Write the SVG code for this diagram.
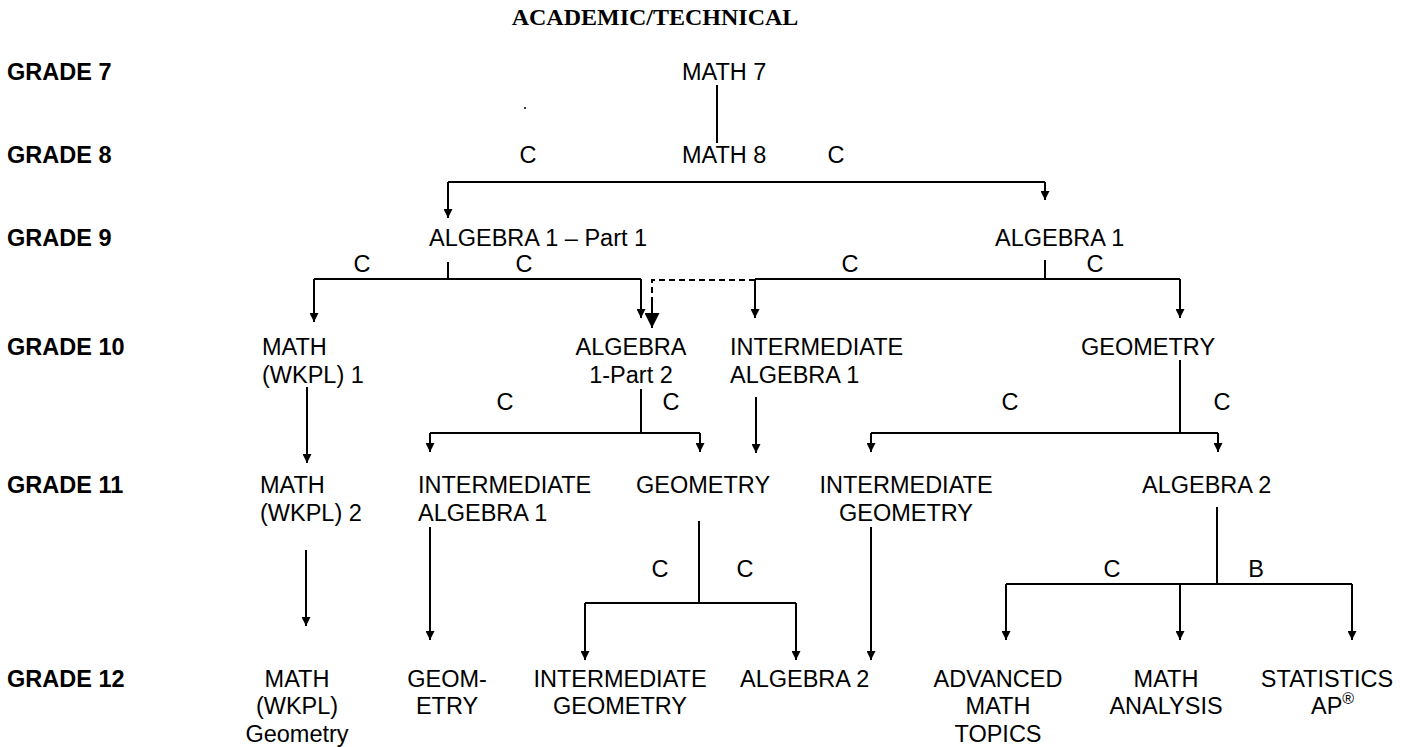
<svg xmlns="http://www.w3.org/2000/svg" width="1409" height="747" viewBox="0 0 1409 747">
<defs>
<style>
.t{font-family:"Liberation Sans",Arial,sans-serif;font-size:23.5px;fill:#000}
.g{font-weight:bold}
.m{text-anchor:middle}
.title{font-family:"Liberation Serif","Times New Roman",serif;font-weight:bold;font-size:24px;text-anchor:middle;fill:#000}
.ln{stroke:#000;stroke-width:2;fill:none}
.ar{marker-end:url(#ah)}
.dash{stroke-dasharray:6 4}
</style>
<marker id="ah" viewBox="0 0 10 10" refX="10" refY="5" markerWidth="11" markerHeight="9" orient="auto" markerUnits="userSpaceOnUse"><path d="M0,0 L10,5 L0,10 z" fill="#000"/></marker>
<marker id="ahb" viewBox="0 0 10 10" refX="10" refY="5" markerWidth="15" markerHeight="15" orient="auto" markerUnits="userSpaceOnUse"><path d="M0,0 L10,5 L0,10 z" fill="#000"/></marker>
</defs>
<rect width="1409" height="747" fill="#fff"/>
<text class="title" x="655" y="25">ACADEMIC/TECHNICAL</text>
<g id="grades" class="t g">
<text x="7" y="80">GRADE 7</text>
<text x="7" y="163">GRADE 8</text>
<text x="7" y="246">GRADE 9</text>
<text x="7" y="355">GRADE 10</text>
<text x="7" y="493">GRADE 11</text>
<text x="7" y="687">GRADE 12</text>
</g>
<circle cx="525" cy="108" r="1" fill="#000"/>
<g id="connectors">
<line class="ln" x1="717" y1="85" x2="717" y2="143"/>
<path class="ln" d="M448,182 H1045"/>
<line class="ln ar" x1="448" y1="182" x2="448" y2="218"/>
<line class="ln ar" x1="1045" y1="182" x2="1045" y2="200"/>
<line class="ln" x1="448" y1="262" x2="448" y2="279"/>
<path class="ln" d="M314,279 H641"/>
<line class="ln ar" x1="314" y1="279" x2="314" y2="322"/>
<line class="ln ar" x1="641" y1="279" x2="641" y2="318"/>
<path class="ln dash" d="M755,280 H652 V316"/>
<line class="ln" x1="652" y1="300" x2="652" y2="328" style="marker-end:url(#ahb)"/>
<line class="ln" x1="1045" y1="260" x2="1045" y2="279"/>
<path class="ln" d="M755,279 H1180"/>
<line class="ln ar" x1="755" y1="279" x2="755" y2="318"/>
<line class="ln ar" x1="1180" y1="279" x2="1180" y2="318"/>
<line class="ln ar" x1="307" y1="387" x2="307" y2="463"/>
<line class="ln" x1="641" y1="389" x2="641" y2="433"/>
<path class="ln" d="M430,433 H700"/>
<line class="ln ar" x1="430" y1="433" x2="430" y2="452"/>
<line class="ln ar" x1="700" y1="433" x2="700" y2="452"/>
<line class="ln ar" x1="756" y1="397" x2="756" y2="453"/>
<line class="ln" x1="1180" y1="360" x2="1180" y2="433"/>
<path class="ln" d="M871,433 H1218"/>
<line class="ln ar" x1="871" y1="433" x2="871" y2="452"/>
<line class="ln ar" x1="1218" y1="433" x2="1218" y2="452"/>
<line class="ln ar" x1="306" y1="550" x2="306" y2="626"/>
<line class="ln ar" x1="430" y1="527" x2="430" y2="640"/>
<line class="ln" x1="699" y1="521" x2="699" y2="603"/>
<path class="ln" d="M585,603 H796"/>
<line class="ln ar" x1="585" y1="603" x2="585" y2="660"/>
<line class="ln ar" x1="796" y1="603" x2="796" y2="660"/>
<line class="ln ar" x1="871" y1="527" x2="871" y2="660"/>
<line class="ln" x1="1217" y1="507" x2="1217" y2="584"/>
<path class="ln" d="M1006,584 H1352"/>
<line class="ln ar" x1="1006" y1="584" x2="1006" y2="640"/>
<line class="ln ar" x1="1180" y1="584" x2="1180" y2="640"/>
<line class="ln ar" x1="1352" y1="584" x2="1352" y2="640"/>
<g class="t m">
<text x="528" y="163">C</text>
<text x="836" y="163">C</text>
<text x="362" y="272">C</text>
<text x="524" y="272">C</text>
<text x="850" y="272">C</text>
<text x="1095" y="272">C</text>
<text x="505" y="410">C</text>
<text x="671" y="410">C</text>
<text x="1010" y="410">C</text>
<text x="1222" y="410">C</text>
<text x="660" y="577">C</text>
<text x="745" y="577">C</text>
<text x="1112" y="577">C</text>
<text x="1256" y="577">B</text>
</g>
</g>
<g id="math7" class="t"><text x="682" y="80">MATH 7</text></g>
<g id="math8" class="t"><text x="682" y="163">MATH 8</text></g>
<g id="alg1p1" class="t"><text x="429" y="246">ALGEBRA 1 – Part 1</text></g>
<g id="alg1" class="t"><text x="995" y="246">ALGEBRA 1</text></g>
<g id="mathwkpl1" class="t"><text x="262" y="355">MATH</text><text x="262" y="383">(WKPL) 1</text></g>
<g id="alg1p2" class="t m"><text x="631" y="355">ALGEBRA</text><text x="631" y="383">1-Part 2</text></g>
<g id="intalg10" class="t"><text x="730" y="355">INTERMEDIATE</text><text x="730" y="383">ALGEBRA 1</text></g>
<g id="geom10" class="t"><text x="1081" y="355">GEOMETRY</text></g>
<g id="mathwkpl2" class="t"><text x="260" y="493">MATH</text><text x="260" y="521">(WKPL) 2</text></g>
<g id="intalg11" class="t"><text x="418" y="493">INTERMEDIATE</text><text x="418" y="521">ALGEBRA 1</text></g>
<g id="geom11" class="t"><text x="636" y="493">GEOMETRY</text></g>
<g id="intgeom11" class="t m"><text x="906" y="493">INTERMEDIATE</text><text x="906" y="521">GEOMETRY</text></g>
<g id="alg2_11" class="t"><text x="1142" y="493">ALGEBRA 2</text></g>
<g id="mathwkplgeom" class="t m"><text x="297" y="687">MATH</text><text x="297" y="714">(WKPL)</text><text x="297" y="742">Geometry</text></g>
<g id="geom12" class="t m"><text x="447" y="687">GEOM-</text><text x="447" y="714">ETRY</text></g>
<g id="intgeom12" class="t m"><text x="620" y="687">INTERMEDIATE</text><text x="620" y="714">GEOMETRY</text></g>
<g id="alg2_12" class="t"><text x="740" y="687">ALGEBRA 2</text></g>
<g id="advmath" class="t m"><text x="998" y="687">ADVANCED</text><text x="998" y="714">MATH</text><text x="998" y="742">TOPICS</text></g>
<g id="mathanalysis" class="t m"><text x="1166" y="687">MATH</text><text x="1166" y="714">ANALYSIS</text></g>
<g id="stats" class="t"><text class="m" x="1327" y="687">STATISTICS</text><text x="1311" y="714">AP<tspan font-size="16" dy="-10">®</tspan></text></g>
</svg>
